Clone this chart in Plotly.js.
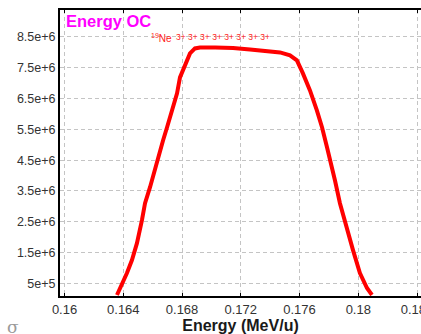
<!DOCTYPE html>
<html>
<head>
<meta charset="utf-8">
<script src="https://cdn.plot.ly/plotly-3.0.1.min.js"></script>
<style>html,body{margin:0;padding:0;background:#fff;overflow:hidden;}#chart{width:421px;height:334px;}</style>
</head>
<body>
<div id="chart"></div>
<script>
// Energy (MeV/u)
const energy = [0.16357,0.16391,0.16425,0.16459,0.16493,0.16527,0.16548,0.16582,0.16616,0.16643,0.16671,0.16698,0.16732,0.16766,0.16786,0.16820,0.16854,0.16888,0.16922,0.17025,0.17147,0.17263,0.17378,0.17467,0.17535,0.17582,0.17623,0.17671,0.17718,0.17753,0.17787,0.17821,0.17841,0.17875,0.17923,0.17964,0.18011,0.18059,0.18093];
// Counts
const counts = [0.128e6,0.451e6,0.840e6,1.261e6,1.809e6,2.555e6,3.105e6,3.623e6,4.238e6,4.659e6,5.144e6,5.565e6,6.115e6,6.665e6,7.183e6,7.571e6,7.960e6,8.121e6,8.153e6,8.153e6,8.137e6,8.089e6,8.040e6,7.992e6,7.895e6,7.733e6,7.312e6,6.762e6,6.115e6,5.565e6,4.917e6,4.270e6,3.849e6,3.105e6,2.231e6,1.583e6,0.840e6,0.354e6,0.128e6];

const xTickVals = [0.16,0.164,0.168,0.172,0.176,0.18,0.184];
const xTickText = ["0.16","0.164","0.168","0.172","0.176","0.18","0.184"];
const yTickVals = [5e5,1.5e6,2.5e6,3.5e6,4.5e6,5.5e6,6.5e6,7.5e6,8.5e6];
const yTickText = ["5e+5","1.5e+6","2.5e+6","3.5e+6","4.5e+6","5.5e+6","6.5e+6","7.5e+6","8.5e+6"];

const chartTitle = "Energy OC";
const ionLabel = "<sup>19</sup>Ne";
const chargeLabels = ["3+","3+","3+","3+","3+","3+","3+","3+"];
const xTitle = "Energy (MeV/u)";
const sideGlyph = "σ";

const font = "Liberation Sans, Arial, sans-serif";

const trace = {
  x: energy, y: counts, type: 'scatter', mode: 'lines',
  line: {color: '#ff0000', width: 4}, hoverinfo: 'skip'
};

const layout = {
  width: 421, height: 334,
  margin: {l: 60, r: 0, t: 10, b: 38, pad: 0},
  paper_bgcolor: '#ffffff', plot_bgcolor: '#ffffff',
  showlegend: false,
  font: {family: font, color: '#333333', size: 12},
  xaxis: {
    range: [0.15969, 0.18427],
    tickvals: xTickVals, ticktext: xTickText,
    tickfont: {family: font, size: 13, color: '#333333'},
    ticklabeloverflow: 'allow',
    ticks: 'inside', ticklen: 3, tickcolor: '#000', mirror: 'ticks',
    showline: true, linecolor: '#000', linewidth: 2,
    showgrid: true, gridcolor: '#c4c4c4', griddash: '4px,3px', gridwidth: 1,
    zeroline: false,
    title: {text: xTitle, font: {family: font, size: 16, color: '#1a1a1a', weight: 'bold'}, standoff: 4}
  },
  yaxis: {
    range: [0.0955e6, 9.367e6],
    tickvals: yTickVals, ticktext: yTickText,
    tickfont: {family: font, size: 12.5, color: '#333333'},
    ticks: '', mirror: true,
    showline: true, linecolor: '#000', linewidth: 2,
    showgrid: true, gridcolor: '#c4c4c4', griddash: '4px,3px', gridwidth: 1,
    zeroline: false
  },
  annotations: [
    {text: '<b>' + chartTitle + '</b>', xref: 'paper', yref: 'paper', x: 0, y: 1,
     xanchor: 'left', yanchor: 'top', xshift: 4, yshift: 0, showarrow: false,
     font: {family: font, size: 16.5, color: '#ff00ff'}},
    {text: ionLabel, xref: 'paper', yref: 'paper', x: 0, y: 1,
     xanchor: 'left', yanchor: 'middle', xshift: 89, yshift: -28, showarrow: false,
     font: {family: font, size: 10, color: '#ff2020'}},
    {text: chargeLabels.join(' '), xref: 'paper', yref: 'paper', x: 0, y: 1,
     xanchor: 'left', yanchor: 'middle', xshift: 114, yshift: -26.5, showarrow: false,
     font: {family: font, size: 8.5, color: '#ff2020'}},
    {text: sideGlyph, xref: 'paper', yref: 'paper', x: 0, y: 0,
     xanchor: 'center', yanchor: 'middle', xshift: -47, yshift: -31, showarrow: false,
     font: {family: 'DejaVu Serif, serif', size: 17, color: '#9a9a9a'}}
  ]
};

Plotly.newPlot('chart', [trace], layout, {displayModeBar: false, staticPlot: true});
</script>
</body>
</html>
